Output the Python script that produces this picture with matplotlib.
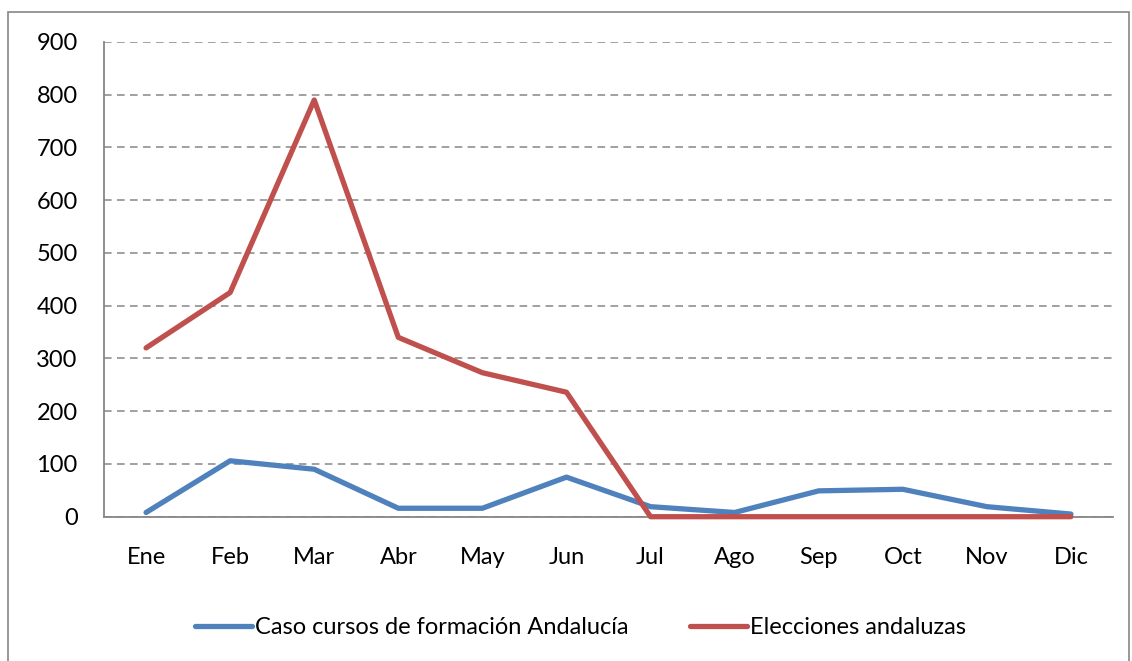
import matplotlib.pyplot as plt
from matplotlib.patches import Rectangle

# data
meses = ['Ene', 'Feb', 'Mar', 'Abr', 'May', 'Jun', 'Jul', 'Ago', 'Sep', 'Oct', 'Nov', 'Dic']
caso_cursos = [8, 106, 90, 16, 16, 75, 19, 8, 49, 52, 19, 5]
elecciones = [320, 425, 790, 340, 273, 236, 0, 0, 0, 0, 0, 0]
y_ticks = [0, 100, 200, 300, 400, 500, 600, 700, 800, 900]

plt.rcParams['font.family'] = ['Lato', 'DejaVu Sans']

fig = plt.figure(figsize=(11.32, 6.61), dpi=100)
ax = fig.add_axes([0.0919, 0.2183, 0.9832 - 0.0919, 0.9365 - 0.2183])

x = list(range(len(meses)))
ax.plot(x, caso_cursos, color='#4F81BD', lw=3.8, solid_capstyle='round',
        label='Caso cursos de formación Andalucía', zorder=3, clip_on=False)
ax.plot(x, elecciones, color='#C0504D', lw=3.8, solid_capstyle='round',
        label='Elecciones andaluzas', zorder=4, clip_on=False)

ax.set_xlim(-0.5, len(meses) - 0.5)
ax.set_ylim(0, 900)
ax.set_yticks(y_ticks)
ax.set_xticks(x)
ax.set_xticklabels(meses)

# dashed grid like the original
ax.yaxis.grid(True, color='#868686', linestyle=(0, (5, 3.5)), lw=1.1)
ax.set_axisbelow(True)

for s in ['top', 'right']:
    ax.spines[s].set_visible(False)
for s in ['left', 'bottom']:
    ax.spines[s].set_color('#868686')
    ax.spines[s].set_linewidth(1.3)

ax.tick_params(axis='both', length=0, labelsize=17, colors='black')
ax.tick_params(axis='y', pad=19)
ax.tick_params(axis='x', pad=22)

fig.legend(loc='center', bbox_to_anchor=(0.513, 0.05), ncol=2, frameon=False,
           fontsize=17, handlelength=2.4, handletextpad=0.15, columnspacing=2.6)

# outer chart border
fig.patches.append(Rectangle((8 / 1132, -0.01), (1129 - 8) / 1132, (661 - 12) / 661 + 0.01,
                             transform=fig.transFigure, fill=False,
                             edgecolor='#868686', lw=1.2))

fig.savefig('out.png', dpi=100)
